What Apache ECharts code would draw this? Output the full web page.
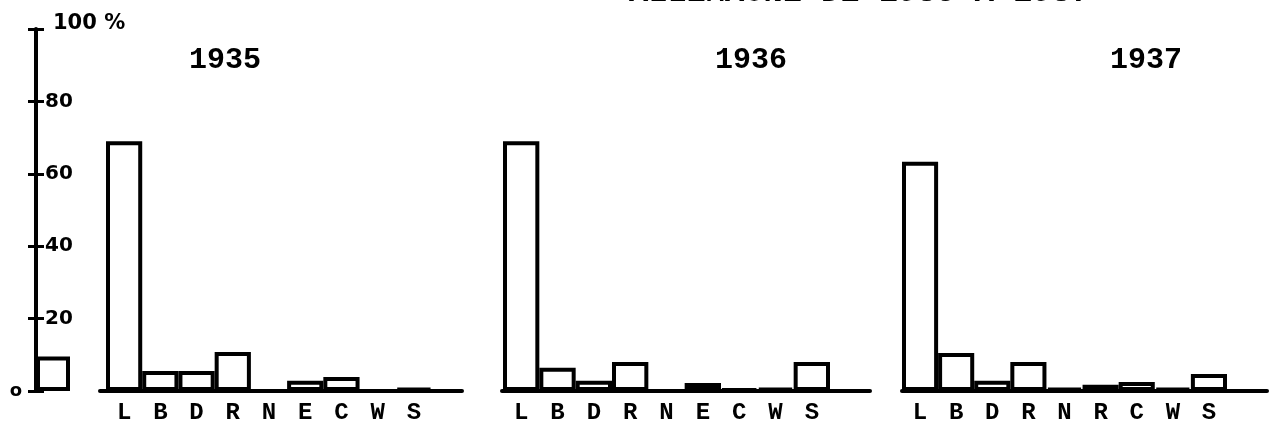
<!DOCTYPE html>
<html>
<head>
<meta charset="utf-8">
<script src="https://cdn.jsdelivr.net/npm/echarts@6/dist/echarts.min.js"></script>
<style>
html,body{margin:0;padding:0;background:#fff;}
#c{width:1273px;height:427px;}
</style>
</head>
<body>
<div id="c"></div>
<script>
// ---- data ----
const yTicks = [0, 20, 40, 60, 80, 100];
const panelTitles = ['1935', '1936', '1937'];
const heading = 'ALLEMAGNE DE 1935 A 1937';
const refCategory = [''];
const refValue = [9.5];
const categories1935 = ['L', 'B', 'D', 'R', 'N', 'E', 'C', 'W', 'S'];
const values1935 = [69, 5.5, 5.5, 10.8, 0, 2.8, 3.9, 0, 0.8];
const categories1936 = ['L', 'B', 'D', 'R', 'N', 'E', 'C', 'W', 'S'];
const values1936 = [69, 6.4, 2.8, 8.0, 0, 2.2, 0.5, 0.8, 8.0];
const categories1937 = ['L', 'B', 'D', 'R', 'N', 'R', 'C', 'W', 'S'];
const values1937 = [63.3, 10.5, 2.8, 8.0, 0.8, 1.7, 2.5, 0.8, 4.7];

// ---- layout ----
const TOP = 29, BOTTOM = 36;
const INK = '#000';
const MONO = '"Liberation Mono", "DejaVu Sans Mono", monospace';
const SANS = '"DejaVu Sans", sans-serif';
const panels = [
  {cats: categories1935, vals: values1935, left: 106, width: 326, baseLeft: 100, baseWidth: 362, titleX: 220},
  {cats: categories1936, vals: values1936, left: 503, width: 327, baseLeft: 502, baseWidth: 368, titleX: 746},
  {cats: categories1937, vals: values1937, left: 902, width: 325, baseLeft: 902, baseWidth: 365, titleX: 1141}
];

const barStyle = {color: '#fff', borderColor: INK, borderWidth: 4};

const grid = [{left: 36, width: 34, top: TOP, bottom: BOTTOM}];
const xAxis = [{gridIndex: 0, type: 'category', data: refCategory, show: false}];
const yAxis = [
  {gridIndex: 0, type: 'value', position: 'left', min: yTicks[0], max: yTicks[yTicks.length - 1], interval: 20,
   axisLine: {show: true, lineStyle: {color: INK, width: 4}},
   axisTick: {show: true, length: 8, lineStyle: {color: INK, width: 3}},
   splitLine: {show: false},
   axisLabel: {margin: 14, color: INK, fontFamily: SANS, fontWeight: 'bold', fontSize: 18,
     formatter: v => (v === 0 ? 'o' : '')}},
  {gridIndex: 0, type: 'value', position: 'left', min: yTicks[0], max: yTicks[yTicks.length - 1], interval: 20,
   axisLine: {show: false},
   axisTick: {show: true, inside: true, length: 8, lineStyle: {color: INK, width: 3}},
   splitLine: {show: false},
   axisLabel: {inside: true, margin: 9, color: INK, fontFamily: SANS, fontWeight: 'bold', fontSize: 20,
     formatter: v => (v === 0 ? '' : (v === 100 ? '{t|100 %}' : String(v))),
     rich: {t: {fontFamily: SANS, fontWeight: 'bold', fontSize: 21, color: INK, padding: [0, 0, 10, 8]}}}}
];
const series = [{type: 'bar', xAxisIndex: 0, yAxisIndex: 0, data: refValue, barCategoryGap: '0%', itemStyle: barStyle, silent: true}];
const title = [{text: heading, left: 624, top: -28, textStyle: {fontFamily: MONO, fontWeight: 'bold', fontSize: 32, color: INK}}];

panels.forEach((p, i) => {
  grid.push({left: p.left, width: p.width, top: TOP, bottom: BOTTOM});
  xAxis.push({gridIndex: i + 1, type: 'category', data: p.cats,
    axisLine: {show: false}, axisTick: {show: false},
    axisLabel: {margin: 10, color: INK, fontFamily: MONO, fontWeight: 'bold', fontSize: 24, interval: 0}});
  yAxis.push({gridIndex: i + 1, type: 'value', min: 0, max: 100, show: false});
  series.push({type: 'bar', xAxisIndex: i + 1, yAxisIndex: i + 2, data: p.vals, barCategoryGap: '0%', itemStyle: barStyle, silent: true});
  title.push({text: panelTitles[i], left: p.titleX, top: 40, textAlign: 'center',
    textStyle: {fontFamily: MONO, fontWeight: 'bold', fontSize: 30, color: INK}});
});
panels.forEach((p, i) => {
  grid.push({left: p.baseLeft, width: p.baseWidth, top: TOP, bottom: BOTTOM});
  xAxis.push({gridIndex: i + 4, type: 'value', min: 0, max: 1,
    axisLine: {show: true, lineStyle: {color: INK, width: 4}}, axisTick: {show: false}, axisLabel: {show: false}, splitLine: {show: false}});
  yAxis.push({gridIndex: i + 4, type: 'value', min: 0, max: 100, show: false});
});

const chart = echarts.init(document.getElementById('c'), null, {renderer: 'canvas'});
chart.setOption({
  backgroundColor: '#fff',
  animation: false,
  title, grid, xAxis, yAxis, series
});
</script>
</body>
</html>
